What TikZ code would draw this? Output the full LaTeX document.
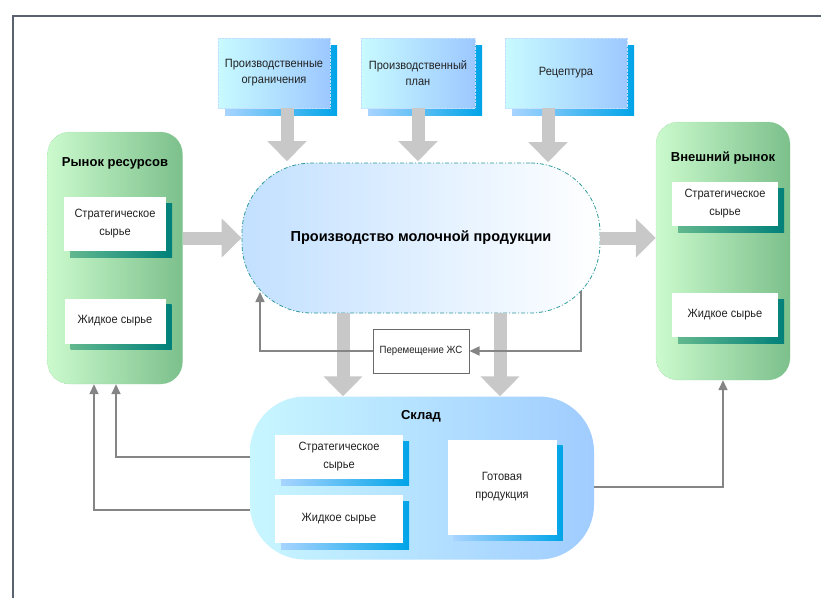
\documentclass[tikz,border=0pt]{standalone}
\usepackage{fontspec}
\setmainfont{Liberation Sans}
\newfontfamily\regfont{Liberation Sans}[FakeStretch=0.92]
\usetikzlibrary{arrows.meta,shadows}
\definecolor{txt}{HTML}{222222}
\definecolor{fatgray}{HTML}{C8C8C8}
\definecolor{conngray}{HTML}{858585}
\definecolor{frameclr}{HTML}{5A6270}
\definecolor{cyanL}{HTML}{C8FAFF}
\definecolor{blueR}{HTML}{9CC8FF}
\definecolor{shBlueL}{HTML}{A8D4FF}
\definecolor{shBlueR}{HTML}{00A4E8}
\definecolor{mainL}{HTML}{C2E0FF}
\definecolor{greenL}{HTML}{CBFACD}
\definecolor{greenR}{HTML}{7CC08C}
\definecolor{greenB}{HTML}{7CCB8A}
\definecolor{shGreenL}{HTML}{62B88E}
\definecolor{shGreenR}{HTML}{00807A}
\definecolor{teal}{HTML}{2E9A9A}
\definecolor{skL}{HTML}{C8F6FF}
\definecolor{skR}{HTML}{A0CCFF}
\tikzset{
  topbox/.style={rectangle, left color=cyanL, right color=blueR, draw=blueR!60, densely dotted,
    align=center, text=txt, font=\regfont\fontsize{12}{16}\selectfont, inner sep=2pt,
    drop shadow={shadow xshift=7pt, shadow yshift=-7pt, opacity=1, left color=shBlueL, right color=shBlueR, draw=none}},
  greenin/.style={rectangle, fill=white, align=center, text=txt, font=\regfont\fontsize{12}{18}\selectfont, inner sep=2pt,
    drop shadow={shadow xshift=6pt, shadow yshift=-6pt, opacity=1, left color=shGreenL, right color=shGreenR}},
  bluein/.style={rectangle, fill=white, align=center, text=txt, font=\regfont\fontsize{12}{18}\selectfont, inner sep=2pt,
    drop shadow={shadow xshift=6pt, shadow yshift=-6pt, opacity=1, left color=shBlueL, right color=shBlueR}},
  greenbox/.style={rectangle, rounded corners=22pt, left color=greenL, right color=greenR, draw=greenB, densely dotted},
  title/.style={font=\fontsize{13}{15}\selectfont\bfseries, text=black},
  fatarrow/.style={draw=fatgray, line width=13pt, -{Triangle[width=38pt,length=20pt]}},
  conn/.style={draw=conngray, line width=1.6pt, -{Triangle[width=9pt,length=10pt]}},
}
\begin{document}
\begin{tikzpicture}[x=1pt,y=-1pt]
\useasboundingbox (0,0) rectangle (821,598);
\fill[white] (0,0) rectangle (821,598);
\draw[frameclr, line width=1.6pt] (13,598) -- (13,16) -- (821,16);

% top boxes
\node[topbox, minimum width=112pt, minimum height=70pt] (c1) at (274,73) {Производственные\\ограничения};
\node[topbox, minimum width=114pt, minimum height=70pt] (c2) at (418,73) {Производственный\\план};
\node[topbox, minimum width=122pt, minimum height=70pt] (c3) at (566,73) {Рецептура};

% main process
\node[rectangle, rounded corners=70pt, minimum width=358pt, minimum height=150pt,
  left color=mainL, right color=white, draw=teal, line width=0.8pt,
  dash pattern=on 4pt off 2pt on 1pt off 2pt,
  font=\fontsize{14.5}{17}\selectfont\bfseries] (main) at (421,238) {Производство молочной продукции};

% markets
\node[greenbox, minimum width=135pt, minimum height=252pt] (rr) at (115,258) {};
\node[title] (rrt) at (115,163) {Рынок ресурсов};
\node[greenin, minimum width=102pt, minimum height=54pt] (rrs) at (115,224) {Стратегическое\\сырье};
\node[greenin, minimum width=101pt, minimum height=45pt] (rrl) at (115,321) {Жидкое сырье};

\node[greenbox, minimum width=134pt, minimum height=258pt] (vr) at (723,251) {};
\node[title] (vrt) at (723,158) {Внешний рынок};
\node[greenin, minimum width=106pt, minimum height=44pt] (vrs) at (725,204) {Стратегическое\\сырье};
\node[greenin, minimum width=106pt, minimum height=44pt] (vrl) at (725,315) {Жидкое сырье};

% warehouse
\node[rectangle, rounded corners=55pt, minimum width=344pt, minimum height=163pt,
  left color=skL, right color=skR] (sklad) at (422,478) {};
\node[title] (skt) at (421,416) {Склад};
\node[bluein, minimum width=128pt, minimum height=44pt] (ss) at (339,457) {Стратегическое\\сырье};
\node[bluein, minimum width=128pt, minimum height=48pt] (ls) at (339,519) {Жидкое сырье};
\node[bluein, minimum width=109pt, minimum height=95pt] (gp) at (502,487) {Готовая\\продукция};

% movement box
\node[rectangle, draw=conngray!80!black, line width=1pt, fill=white, minimum width=96pt, minimum height=44pt,
  text=txt, font=\regfont\fontsize{10.5}{12}\selectfont] (move) at (421,351) {Перемещение ЖС};

% fat arrows
\draw[fatarrow] ([xshift=13pt]c1.south) -- ++(0,53);
\draw[fatarrow] (c2.south) -- ++(0,53);
\draw[fatarrow] ([xshift=-18pt]c3.south) -- ++(0,54);
\draw[fatarrow] (rr.east |- main.west) -- (main.west);
\draw[fatarrow] (main.east) -- (vr.west |- main.east);
\draw[fatarrow] ([xshift=-78pt]main.south) -- ([xshift=-78pt]main.south |- sklad.north);
\draw[fatarrow] ([xshift=79pt]main.south) -- ([xshift=79pt]main.south |- sklad.north);

% connectors
\coordinate (mr) at (581,291);
\coordinate (ml) at (260,292);
\draw[conn] (mr) |- (move.east);
\draw[conn] (move.west) -| (ml);
\draw[conn] (sklad.west |- ss.west) -| ([xshift=1pt]rr.south);
\draw[conn] ([yshift=9pt]sklad.west |- ls.west) -| ([xshift=-21pt]rr.south);
\draw[conn] (sklad.east |- gp.east) -| (vr.south);
\end{tikzpicture}
\end{document}
